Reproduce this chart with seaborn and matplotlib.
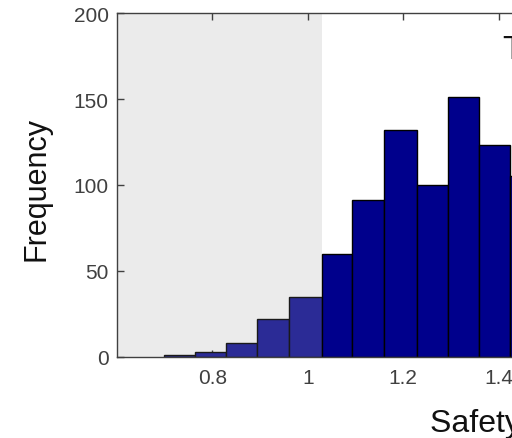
import matplotlib
matplotlib.use("Agg")
import matplotlib.pyplot as plt
import seaborn as sns
import numpy as np
import pandas as pd

# ---- data ----
bin_edges = [0.699, 0.764, 0.829, 0.894, 0.961, 1.029, 1.093, 1.160,
             1.228, 1.293, 1.358, 1.423, 1.489]
counts = [1, 3, 8, 22, 35, 60, 91, 132, 100, 151, 123, 105]
threshold = 1.029
x_ticks = [0.8, 1.0, 1.2, 1.4, 1.6]
x_tick_labels = ["0.8", "1", "1.2", "1.4", "1.6"]
y_ticks = [0, 50, 100, 150, 200]

sns.set_style("white")
plt.rcParams['font.family'] = ['Liberation Sans', 'DejaVu Sans']

W, H = 512, 439
fig = plt.figure(figsize=(W / 100, H / 100), dpi=100)
left_px, top_px, bottom_px = 117, 14, 358
px_per_unit = 477.0
xmin, xmax = 0.6, 1.6
ax = fig.add_axes([left_px / W, (H - bottom_px) / H,
                   (xmax - xmin) * px_per_unit / W, (bottom_px - top_px) / H])

centers = [(bin_edges[i] + bin_edges[i + 1]) / 2 for i in range(len(counts))]
df = pd.DataFrame({"center": centers, "count": counts})
df_low = df[df["center"] < threshold]
df_high = df[df["center"] >= threshold]
edges_low = [e for e in bin_edges if e <= threshold]
edges_high = [e for e in bin_edges if e >= threshold]

ax.axvspan(xmin, threshold, color="#ebebeb", zorder=0, lw=0)
sns.histplot(data=df_low, x="center", weights="count", bins=edges_low,
             color="#2b2b96", edgecolor="#1a1a1a", linewidth=1.0, alpha=1,
             ax=ax, zorder=2)
sns.histplot(data=df_high, x="center", weights="count", bins=edges_high,
             color="#00008c", edgecolor="#000000", linewidth=1.0, alpha=1,
             ax=ax, zorder=2)

ax.set_xlim(xmin, xmax)
ax.set_ylim(0, 200)
ax.set_xticks(x_ticks)
ax.set_xticklabels(x_tick_labels)
ax.set_yticks(y_ticks)
ax.tick_params(direction="in", length=5, width=1, colors="#404040",
               labelcolor="#404040", labelsize=15, top=True, right=True,
               bottom=True, left=True)
ax.tick_params(axis="x", pad=8)
ax.tick_params(axis="y", pad=6)
for s in ax.spines.values():
    s.set_color("#404040")
    s.set_linewidth(1.0)
ax.set_xlabel("")
ax.set_ylabel("")

fig.text(36 / W, (H - 189) / H, "Frequency", rotation=90, fontsize=22,
         ha="center", va="center", color="#111111")
fig.text(430 / W, (H - 432) / H, "Safety Factor", fontsize=23,
         ha="left", va="baseline", color="#111111")
fig.text(502 / W, (H - 59) / H, "Threshold", fontsize=24,
         ha="left", va="baseline", color="#111111")

fig.savefig("out.png", dpi=100)
